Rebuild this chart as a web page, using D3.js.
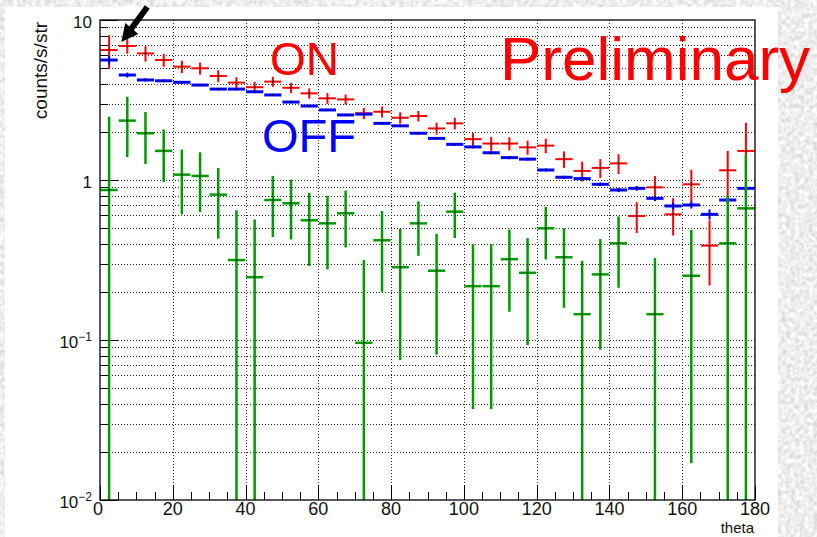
<!DOCTYPE html>
<html>
<head>
<meta charset="utf-8">
<script src="https://cdn.jsdelivr.net/npm/d3@7"></script>
<style>
  body { margin: 0; background: #ddd; }
  text { font-family: "Liberation Sans", Arial, Helvetica, sans-serif; }
</style>
</head>
<body>
<div id="chart_1"></div>
<script>
// bin centers (theta, 5 degree bins)
var thetaBins = [2.5, 7.5, 12.5, 17.5, 22.5, 27.5, 32.5, 37.5, 42.5, 47.5, 52.5, 57.5,
  62.5, 67.5, 72.5, 77.5, 82.5, 87.5, 92.5, 97.5, 102.5, 107.5, 112.5, 117.5,
  122.5, 127.5, 132.5, 137.5, 142.5, 147.5, 152.5, 157.5, 162.5, 167.5, 172.5, 177.5];
var binWidth = 5;

// ON (red)
var onValues = [6.49, 6.88, 6.18, 5.62, 5.11, 4.99, 4.47, 4.06, 3.80, 4.12, 3.77, 3.48,
  3.24, 3.19, 2.61, 2.67, 2.45, 2.51, 2.10, 2.26, 1.80, 1.69, 1.69, 1.60,
  1.64, 1.35, 1.14, 1.19, 1.27, 0.596, 0.90, 0.61, 0.94, 0.389, 1.15, 1.52];
var onErrors = [1.55, 0.72, 0.68, 0.52, 0.45, 0.43, 0.38, 0.33, 0.31, 0.30, 0.28, 0.26,
  0.25, 0.23, 0.21, 0.21, 0.20, 0.19, 0.18, 0.19, 0.17, 0.17, 0.16, 0.16,
  0.17, 0.16, 0.16, 0.16, 0.18, 0.13, 0.16, 0.16, 0.22, 0.17, 0.37, 0.76];

// OFF (blue)
var offValues = [5.62, 4.53, 4.22, 4.17, 4.08, 3.92, 3.70, 3.70, 3.56, 3.40, 3.07, 2.90,
  2.74, 2.55, 2.58, 2.26, 2.18, 1.96, 1.82, 1.67, 1.61, 1.48, 1.38, 1.35,
  1.155, 1.04, 1.02, 0.94, 0.866, 0.887, 0.768, 0.688, 0.698, 0.61, 0.75, 0.887];
var offErrors = [0.35, 0.16, 0.10, 0.08, 0.07, 0.06, 0.06, 0.05, 0.05, 0.05, 0.05, 0.04,
  0.04, 0.04, 0.04, 0.035, 0.035, 0.03, 0.03, 0.03, 0.03, 0.03, 0.03, 0.03,
  0.025, 0.025, 0.025, 0.025, 0.025, 0.03, 0.03, 0.035, 0.035, 0.045, 0.04, 0.035];

// ON - OFF (green), null where negative
var diffValues = [0.866, 2.35, 1.96, 1.52, 1.08, 1.06, 0.81, 0.316, 0.247, 0.75, 0.715, 0.56,
  0.536, 0.619, 0.096, 0.42, 0.285, 0.536, 0.271, 0.634, 0.217, 0.217, 0.32, 0.263,
  0.499, 0.329, 0.145, 0.257, 0.402, null, 0.145, null, 0.252, null, 0.402, 0.665];
var diffErrors = [1.62, 0.96, 0.70, 0.55, 0.47, 0.43, 0.38, 0.33, 0.32, 0.31, 0.29, 0.27,
  0.26, 0.24, 0.22, 0.22, 0.21, 0.20, 0.19, 0.20, 0.18, 0.18, 0.17, 0.17,
  0.18, 0.17, 0.167, 0.17, 0.19, null, 0.18, null, 0.235, null, 0.40, 0.77];

var xTickLabels = [0, 20, 40, 60, 80, 100, 120, 140, 160, 180];
var yTickLabels = [{ v: 10, base: "10", sup: "" }, { v: 1, base: "1", sup: "" },
  { v: 0.1, base: "10", sup: "\u22121" }, { v: 0.01, base: "10", sup: "\u22122" }];

var margin = { top: 20, right: 62, bottom: 37, left: 100 },
  W = 817, H = 537,
  width = W - margin.left - margin.right,
  height = H - margin.top - margin.bottom;

var svg = d3.select("#chart_1").append("svg").attr("width", W).attr("height", H);

// stone-ish background
var defs = svg.append("defs");
var filt = defs.append("filter").attr("id", "stone").attr("x", 0).attr("y", 0).attr("width", "100%").attr("height", "100%");
filt.append("feTurbulence").attr("type", "fractalNoise").attr("baseFrequency", 0.22).attr("numOctaves", 3).attr("seed", 4);
filt.append("feColorMatrix").attr("type", "matrix")
  .attr("values", "0.55 0 0 0 0.58  0.55 0 0 0 0.58  0.55 0 0 0 0.58  0 0 0 0 1");
defs.append("clipPath").attr("id", "frameClip").append("rect")
  .attr("x", margin.left).attr("y", margin.top).attr("width", width).attr("height", height);

svg.append("rect").attr("width", W).attr("height", H).attr("filter", "url(#stone)");
svg.append("rect").attr("x", 5).attr("y", 7).attr("width", 773).attr("height", H).attr("fill", "#fff");

var x = d3.scaleLinear().domain([0, 180]).range([margin.left, margin.left + width]);
var y = d3.scaleLog().domain([0.01, 10]).range([margin.top + height, margin.top]);

// grid
var grid = svg.append("g").attr("stroke", "#000").attr("stroke-width", 1).attr("stroke-dasharray", "1,2").attr("opacity", 0.85);
grid.selectAll(".gx").data(xTickLabels.slice(1, -1)).enter().append("line")
  .attr("x1", (d) => Math.round(x(d)) + 0.5).attr("x2", (d) => Math.round(x(d)) + 0.5)
  .attr("y1", margin.top).attr("y2", margin.top + height);
grid.selectAll(".gy").data(y.ticks().filter((d) => d < 10 && d > 0.01)).enter().append("line")
  .attr("x1", margin.left).attr("x2", margin.left + width)
  .attr("y1", (d) => Math.round(y(d)) + 0.5).attr("y2", (d) => Math.round(y(d)) + 0.5);

// axis ticks
var ticks = svg.append("g").attr("stroke", "#000").attr("stroke-width", 1);
ticks.selectAll(".ty").data(y.ticks()).enter().append("line")
  .attr("x1", margin.left)
  .attr("x2", (d) => margin.left + (yTickLabels.some((t) => Math.abs(t.v - d) < 1e-9) ? 18 : 8))
  .attr("y1", (d) => Math.round(y(d)) + 0.5).attr("y2", (d) => Math.round(y(d)) + 0.5);
ticks.selectAll(".tx").data(d3.range(0, 181, binWidth)).enter().append("line")
  .attr("x1", (d) => Math.round(x(d)) + 0.5).attr("x2", (d) => Math.round(x(d)) + 0.5)
  .attr("y1", margin.top + height)
  .attr("y2", (d) => margin.top + height - (d % 20 === 0 ? 14 : 8));

// error bar drawing for one series
function drawSeries(vals, errs, color, hw, vw) {
  var pts = thetaBins.map((t, i) => ({ t: t, v: vals[i], e: errs[i] })).filter((d) => d.v != null);
  var g = svg.append("g").attr("clip-path", "url(#frameClip)");
  g.selectAll(".v").data(pts).enter().append("line")
    .attr("x1", (d) => x(d.t)).attr("x2", (d) => x(d.t))
    .attr("y1", (d) => y(d.v + d.e))
    .attr("y2", (d) => (d.v - d.e > 0.01 ? y(d.v - d.e) : margin.top + height + 2))
    .attr("stroke", color).attr("stroke-width", vw);
  g.selectAll(".h").data(pts).enter().append("line")
    .attr("x1", (d) => x(d.t - binWidth / 2) + 0.5).attr("x2", (d) => x(d.t + binWidth / 2) - 0.5)
    .attr("y1", (d) => y(d.v)).attr("y2", (d) => y(d.v))
    .attr("stroke", color).attr("stroke-width", hw);
  // small black marker at point
  g.selectAll(".m").data(pts).enter().append("rect")
    .attr("x", (d) => x(d.t) - 0.75).attr("y", (d) => y(d.v) - 0.75)
    .attr("width", 1.5).attr("height", 1.5).attr("fill", "#000");
}

drawSeries(onValues, onErrors, "#ff0000", 2, 2);
drawSeries(offValues, offErrors, "#0000ff", 3, 2);
drawSeries(diffValues, diffErrors, "#009900", 2.5, 2.5);

// frame
svg.append("rect").attr("x", margin.left).attr("y", margin.top).attr("width", width).attr("height", height)
  .attr("fill", "none").attr("stroke", "#000").attr("stroke-width", 1.3);

// tick labels
svg.selectAll(".xl").data(xTickLabels).enter().append("text")
  .attr("x", (d) => x(d) - (d === 0 ? 2 : 0)).attr("y", 515)
  .attr("text-anchor", "middle").attr("font-size", 18).attr("fill", "#111").text((d) => d);

var yl = svg.selectAll(".yl").data(yTickLabels).enter().append("text")
  .attr("x", 92).attr("y", (d) => y(d.v) + 7.5)
  .attr("text-anchor", "end").attr("font-size", 17).attr("fill", "#111");
yl.append("tspan").text((d) => d.base);
yl.append("tspan").attr("dy", -7).attr("font-size", 12).text((d) => d.sup);

// axis titles
svg.append("text").attr("transform", "translate(47,22) rotate(-90)")
  .attr("text-anchor", "end").attr("font-size", 19).attr("fill", "#111").text("counts/s/str");
svg.append("text").attr("x", 754).attr("y", 533)
  .attr("text-anchor", "end").attr("font-size", 15).attr("fill", "#111").text("theta");

// labels
svg.append("text").attr("x", 270).attr("y", 75).attr("font-size", 46).attr("fill", "#ff0000").text("ON");
svg.append("text").attr("x", 262).attr("y", 152).attr("font-size", 47).attr("fill", "#0000ff").text("OFF");
svg.append("text").attr("x", 500).attr("y", 80).attr("font-size", 62).attr("fill", "#ff0000").text("Preliminary");

// arrow pointing at the second ON bin
var tipX = x(thetaBins[1]) - 6, tipY = y(onValues[1]) - 4;
svg.append("line").attr("x1", tipX + 26).attr("y1", tipY - 35).attr("x2", tipX + 9).attr("y2", tipY - 12)
  .attr("stroke", "#000").attr("stroke-width", 6);
svg.append("polygon")
  .attr("points", [[tipX, tipY], [tipX + 17, tipY - 8], [tipX + 4, tipY - 19]].map((p) => p.join(",")).join(" "))
  .attr("fill", "#000");
</script>
</body>
</html>
